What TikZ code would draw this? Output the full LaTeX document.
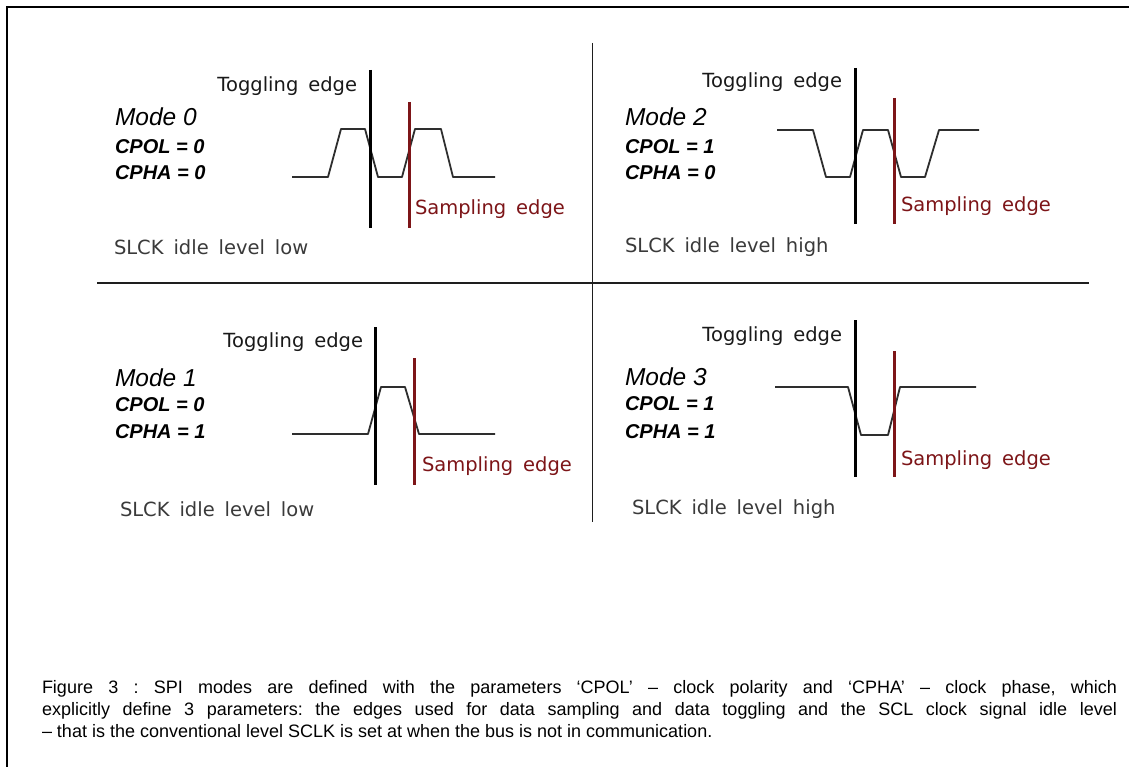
\documentclass[tikz,border=0pt]{standalone}
\usepackage{fontspec}
\setmainfont{Liberation Sans}
\newfontfamily\labelfont[WordSpace=1.6]{DejaVu Sans}
\definecolor{wave}{HTML}{2E2E2E}
\definecolor{samplered}{HTML}{7D1518}
\definecolor{idlegray}{HTML}{3A3A3A}
\definecolor{rule}{HTML}{1E1E1E}

\tikzset{
  every node/.style={inner sep=0pt, outer sep=0pt},
  frameline/.style={draw=black, line width=2pt},
  divider/.style={draw=rule, line width=1.6pt},
  clockwave/.style={draw=wave, line width=1.8pt, line join=round},
  toggleline/.style={draw=black, line width=3pt},
  sampleline/.style={draw=samplered, line width=3pt},
  togglelabel/.style={anchor=east, text=black!90, font=\labelfont\fontsize{19.5}{22}\selectfont},
  samplelabel/.style={anchor=west, text=samplered, font=\labelfont\fontsize{19.5}{22}\selectfont},
  idlelabel/.style={anchor=west, text=idlegray, font=\labelfont\fontsize{19.5}{22}\selectfont},
  modelabel/.style={anchor=west, text=black, font=\itshape\fontsize{24.5}{26}\selectfont},
  paramlabel/.style={anchor=west, text=black, font=\bfseries\itshape\fontsize{20}{22}\selectfont},
}

\begin{document}
\begin{tikzpicture}[x=1pt, y=-1pt]
\useasboundingbox (0,0) rectangle (1129,767);
\fill[white] (0,0) rectangle (1129,767);

% outer frame (left and top edges)
\draw[frameline] (7,767) -- (7,7) -- (1129,7);

% quadrant dividers
\coordinate (vtop) at (592.5,43);
\coordinate (vbot) at (592.5,522);
\coordinate (hleft) at (97,283);
\coordinate (hright) at (1089,283);
\draw[divider] (vtop) -- (vbot);
\draw[divider] (hleft) -- (hright);

% ---------- Mode 0 ----------
\node[modelabel] (m0) at (115,117) {Mode 0};
\node[paramlabel] (m0pol) at (115,147) {CPOL = 0};
\node[paramlabel] (m0pha) at (115,173) {CPHA = 0};
\node[idlelabel] (m0idle) at (114,247) {SLCK idle level low};
\draw[clockwave] (292,177) -- (328,177) -- (341,129) -- (365,129) -- (378,177)
  -- (402,177) -- (415,129) -- (441,129) -- (453,177) -- (495,177);
\coordinate (m0tt) at (370,70);  \coordinate (m0tb) at (370,228);
\coordinate (m0st) at (409,102); \coordinate (m0sb) at (409,228);
\draw[toggleline] (m0tt) -- (m0tb);
\draw[sampleline] (m0st) -- (m0sb);
\node[togglelabel] (m0tog) at (357,86) {Toggling edge};
\node[samplelabel] (m0smp) at (415,209) {Sampling edge};

% ---------- Mode 2 ----------
\node[modelabel] (m2) at (625,117) {Mode 2};
\node[paramlabel] (m2pol) at (625,147) {CPOL = 1};
\node[paramlabel] (m2pha) at (625,173) {CPHA = 0};
\node[idlelabel] (m2idle) at (625,247) {SLCK idle level high};
\draw[clockwave] (777,130) -- (813,130) -- (826,177) -- (850,177) -- (863,130)
  -- (888,130) -- (901,177) -- (925,177) -- (939,130) -- (979,130);
\coordinate (m2tt) at (855,68);  \coordinate (m2tb) at (855,224);
\coordinate (m2st) at (894,98);  \coordinate (m2sb) at (894,224);
\draw[toggleline] (m2tt) -- (m2tb);
\draw[sampleline] (m2st) -- (m2sb);
\node[togglelabel] (m2tog) at (842,82) {Toggling edge};
\node[samplelabel] (m2smp) at (901,206) {Sampling edge};

% ---------- Mode 1 ----------
\node[modelabel] (m1) at (115,378) {Mode 1};
\node[paramlabel] (m1pol) at (115,405) {CPOL = 0};
\node[paramlabel] (m1pha) at (115,432) {CPHA = 1};
\node[idlelabel] (m1idle) at (120,509) {SLCK idle level low};
\draw[clockwave] (292,434) -- (368,434) -- (381,387) -- (405,387) -- (419,434) -- (495,434);
\coordinate (m1tt) at (375,327);  \coordinate (m1tb) at (375,485);
\coordinate (m1st) at (414.5,358); \coordinate (m1sb) at (414.5,485);
\draw[toggleline] (m1tt) -- (m1tb);
\draw[sampleline] (m1st) -- (m1sb);
\node[togglelabel] (m1tog) at (363,342) {Toggling edge};
\node[samplelabel] (m1smp) at (422,466) {Sampling edge};

% ---------- Mode 3 ----------
\node[modelabel] (m3) at (625,377) {Mode 3};
\node[paramlabel] (m3pol) at (625,404) {CPOL = 1};
\node[paramlabel] (m3pha) at (625,432) {CPHA = 1};
\node[idlelabel] (m3idle) at (632,509) {SLCK idle level high};
\draw[clockwave] (775,387) -- (848,387) -- (861,435) -- (888,435) -- (900,387) -- (976,387);
\coordinate (m3tt) at (855,320);  \coordinate (m3tb) at (855,477);
\coordinate (m3st) at (894,351);  \coordinate (m3sb) at (894,477);
\draw[toggleline] (m3tt) -- (m3tb);
\draw[sampleline] (m3st) -- (m3sb);
\node[togglelabel] (m3tog) at (842,336) {Toggling edge};
\node[samplelabel] (m3smp) at (901,460) {Sampling edge};

% ---------- caption ----------
\node[anchor=north west] (caption) at (42,680) {\parbox{1075pt}{\fontsize{18}{22}\selectfont\frenchspacing
Figure 3 : SPI modes are defined with the parameters ‘CPOL’ – clock polarity and ‘CPHA’ – clock phase, which\linebreak
explicitly define 3 parameters: the edges used for data sampling and data toggling and the SCL clock signal idle level\linebreak
– that is the conventional level SCLK is set at when the bus is not in communication.}};
\end{tikzpicture}
\end{document}
